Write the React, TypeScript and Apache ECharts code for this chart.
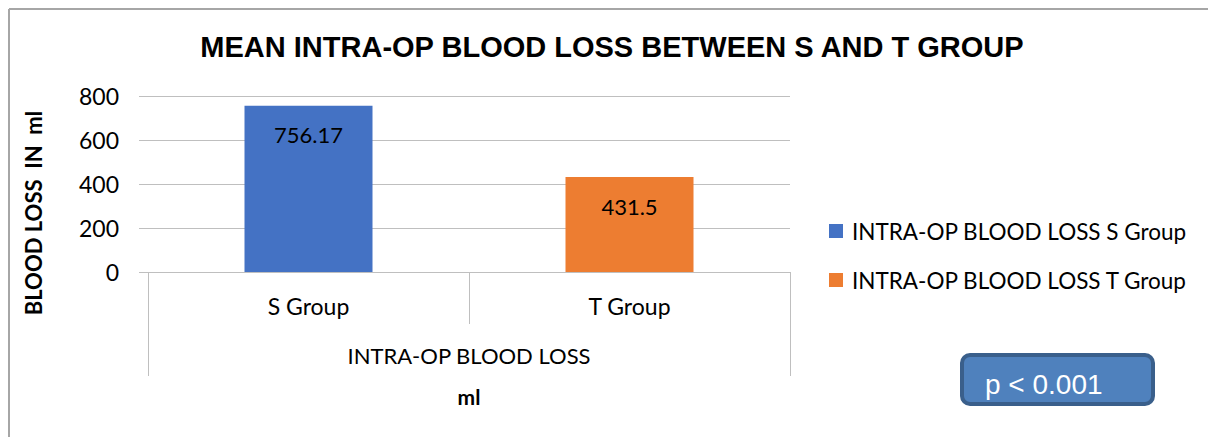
import React, { useEffect, useRef } from "react";
import * as echarts from "echarts";

const categories = ["S Group", "T Group"];
const groupLabel = ["INTRA-OP BLOOD LOSS"];
const seriesNames = ["INTRA-OP BLOOD LOSS S Group", "INTRA-OP BLOOD LOSS T Group"];
const sValues: (number | string)[] = [756.17, "-"];
const tValues: (number | string)[] = ["-", 431.5];
const yTicks = { min: 0, max: 800, interval: 200 };
const titleText = "MEAN INTRA-OP BLOOD LOSS BETWEEN S AND T GROUP";
const yAxisTitle = "BLOOD LOSS  IN  ml";
const xAxisTitle = "ml";
const pText = "p < 0.001";

const FONT = "Lato, 'Open Sans', sans-serif";
const GRID_COLOR = "#BFBFBF";

export default function App() {
  const ref = useRef<HTMLDivElement>(null);
  useEffect(() => {
    if (!ref.current) return;
    const chart = echarts.init(ref.current, undefined, { renderer: "svg" });
    const labelStyle = {
      show: true,
      position: "insideTop",
      distance: 18,
      color: "#000",
      fontFamily: FONT,
      fontSize: 22,
      formatter: (p: any) => String(p.value),
    };
    chart.setOption({
      animation: false,
      backgroundColor: "#fff",
      grid: { left: 148, right: 418, top: 96, bottom: 165, containLabel: false },
      legend: {
        orient: "vertical",
        left: 824,
        top: 214,
        itemWidth: 14,
        itemHeight: 14,
        itemGap: 25,
        icon: "rect",
        textStyle: { fontFamily: FONT, fontSize: 22.5, lineHeight: 24, color: "#000", padding: [0, 0, 0, 4] },
        data: seriesNames,
      },
      xAxis: [
        {
          type: "category",
          data: categories,
          position: "bottom",
          axisLine: { show: true, lineStyle: { color: GRID_COLOR, width: 1 } },
          axisTick: { show: true, interval: 0, length: 52, alignWithLabel: false, lineStyle: { color: GRID_COLOR } },
          axisLabel: { margin: 22, color: "#000", fontFamily: FONT, fontSize: 23 },
        },
        {
          type: "category",
          data: groupLabel,
          position: "bottom",
          axisLine: { show: false },
          axisTick: { show: true, interval: 0, length: 104, alignWithLabel: false, lineStyle: { color: GRID_COLOR } },
          axisLabel: { margin: 72, color: "#000", fontFamily: FONT, fontSize: 22 },
          name: xAxisTitle,
          nameLocation: "middle",
          nameGap: 114,
          nameTextStyle: { fontFamily: FONT, fontSize: 21, fontWeight: "bold", color: "#000" },
        },
      ],
      yAxis: {
        type: "value",
        min: yTicks.min,
        max: yTicks.max,
        interval: yTicks.interval,
        axisLine: { show: false },
        axisTick: { show: true, length: 9, lineStyle: { color: GRID_COLOR } },
        axisLabel: { margin: 29, color: "#000", fontFamily: FONT, fontSize: 23 },
        splitLine: { show: true, lineStyle: { color: GRID_COLOR, width: 1 } },
      },
      series: [
        {
          name: seriesNames[0],
          type: "bar",
          xAxisIndex: 0,
          data: sValues,
          barWidth: 128,
          barGap: "-100%",
          itemStyle: { color: "#4472C4" },
          label: labelStyle,
        },
        {
          name: seriesNames[1],
          type: "bar",
          xAxisIndex: 0,
          data: tValues,
          barWidth: 128,
          barGap: "-100%",
          itemStyle: { color: "#ED7D31" },
          label: labelStyle,
        },
      ],
      graphic: [
        { type: "line", shape: { x1: 9, y1: 9, x2: 1208, y2: 9 }, style: { stroke: "#A6A6A6", lineWidth: 2 } },
        { type: "line", shape: { x1: 9, y1: 9, x2: 9, y2: 437 }, style: { stroke: "#A6A6A6", lineWidth: 2 } },
        {
          type: "text",
          x: 612,
          y: 47,
          style: {
            text: titleText,
            fontFamily: "'Liberation Sans', Arial, sans-serif",
            fontWeight: "bold",
            fontSize: 29,
            fill: "#000",
            textAlign: "center",
            textVerticalAlign: "middle",
          },
        },
        {
          type: "text",
          x: 33,
          y: 213,
          rotation: Math.PI / 2,
          style: {
            text: yAxisTitle,
            fontFamily: FONT,
            fontWeight: "bold",
            fontSize: 22,
            fill: "#000",
            textAlign: "center",
            textVerticalAlign: "middle",
          },
        },
        {
          type: "rect",
          shape: { x: 962, y: 355, width: 191, height: 49, r: 8 },
          style: { fill: "#4F81BD", stroke: "#3A5F8B", lineWidth: 4 },
        },
        {
          type: "text",
          x: 985,
          y: 384,
          style: {
            text: pText,
            fontFamily: "'Liberation Sans', Arial, sans-serif",
            fontSize: 28,
            fill: "#fff",
            textAlign: "left",
            textVerticalAlign: "middle",
          },
        },
      ],
    });
    return () => chart.dispose();
  }, []);
  return <div ref={ref} style={{ position: "fixed", left: 0, top: 0, width: 1208, height: 437 }} />;
}
